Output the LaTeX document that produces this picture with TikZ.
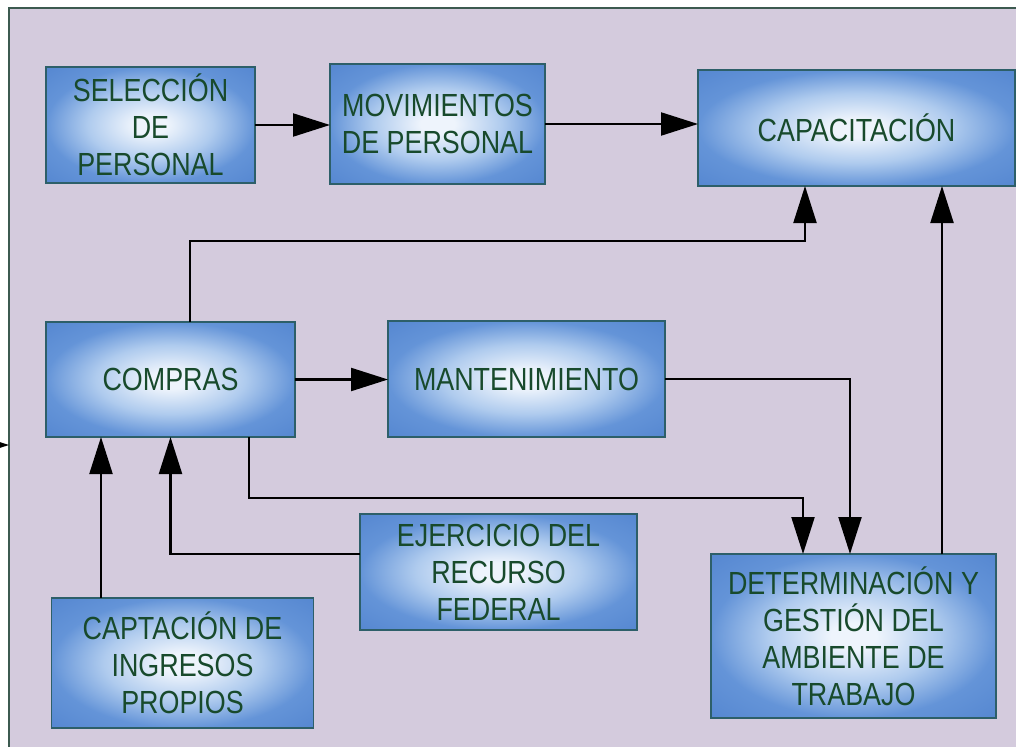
\documentclass[tikz,border=0pt]{standalone}
\usepackage{fontspec}
\newfontfamily\boxfont[FakeStretch=0.84]{Liberation Sans}
\usetikzlibrary{arrows.meta}
\definecolor{bgfill}{RGB}{212,203,221}
\definecolor{framec}{RGB}{60,90,80}
\definecolor{boxedge}{RGB}{45,95,105}
\definecolor{txt}{RGB}{24,74,44}
\definecolor{bcenter}{RGB}{238,244,252}
\definecolor{bmid}{RGB}{175,203,238}
\definecolor{bouter}{RGB}{100,148,216}
\definecolor{bcorner}{RGB}{82,132,207}
\pgfdeclareradialshading{boxshade}{\pgfpoint{0bp}{0bp}}{color(0bp)=(bcenter); color(4bp)=(bcenter); color(15bp)=(bmid); color(25bp)=(bouter); color(38bp)=(bcorner); color(50bp)=(bcorner)}
\tikzset{
  boxnode/.style={draw=boxedge, line width=1.2pt, shading=boxshade, rectangle,
    inner sep=0pt, outer sep=0pt, align=center, text=txt,
    font=\boxfont\fontsize{32}{37}\selectfont},
  arr/.style={line width=2.2pt, -{Triangle[length=37pt,width=23pt]}},
}
\begin{document}
\begin{tikzpicture}[x=1pt,y=-1pt]
\useasboundingbox (0,0) rectangle (1016,746);
\clip (0,0) rectangle (1016,746);
\fill[white] (0,0) rectangle (1016,746);
\draw[framec, line width=1.2pt, fill=bgfill] (9,8) rectangle (1040,770);

\node[boxnode, minimum width=209pt, minimum height=116pt] (sel) at (150.5,125) {SELECCIÓN\\DE\\PERSONAL};
\node[boxnode, minimum width=215pt, minimum height=120pt] (mov) at (437.5,124) {MOVIMIENTOS\\DE PERSONAL};
\node[boxnode, minimum width=317pt, minimum height=116pt] (cap) at (856.5,128) {CAPACITACIÓN};
\node[boxnode, minimum width=249pt, minimum height=115pt] (com) at (170.5,379.5) {COMPRAS};
\node[boxnode, minimum width=277pt, minimum height=116pt] (man) at (526.5,379) {MANTENIMIENTO};
\node[boxnode, minimum width=277pt, minimum height=116pt] (eje) at (498.5,572) {EJERCICIO DEL\\RECURSO\\FEDERAL};
\node[boxnode, minimum width=262pt, minimum height=130pt] (capt) at (182.5,663) {CAPTACIÓN DE\\INGRESOS\\PROPIOS};
\node[boxnode, minimum width=285pt, minimum height=164pt] (det) at (853.5,636) {DETERMINACIÓN Y\\GESTIÓN DEL\\AMBIENTE DE\\TRABAJO};

\coordinate (lin) at (-40,445);
\coordinate (lout) at (9,445);
\draw[arr] (lin) -- (lout);

\draw[arr] (sel.east) -- (sel.east -| mov.west);
\draw[arr] (mov.east) -- (mov.east -| cap.west);
\draw[arr] ([xshift=19.5pt]com.north) -- ++(0,-81) -| ([xshift=-51.5pt]cap.south);
\draw[arr] (com.east) -- (com.east -| man.west);
\draw[arr] (man.east) -| ([xshift=-3.5pt]det.north);
\draw[arr] ([xshift=78.5pt]com.south) -- ++(0,61) -| ([xshift=-50.5pt]det.north);
\draw[arr] ([yshift=18pt]eje.west) -| (com.south);
\draw[arr] ([xshift=-81.5pt]capt.north) -- ([xshift=-81.5pt]capt.north |- com.south);
\draw[arr] ([xshift=88.5pt]det.north) -- ([xshift=88.5pt]det.north |- cap.south);
\end{tikzpicture}
\end{document}
